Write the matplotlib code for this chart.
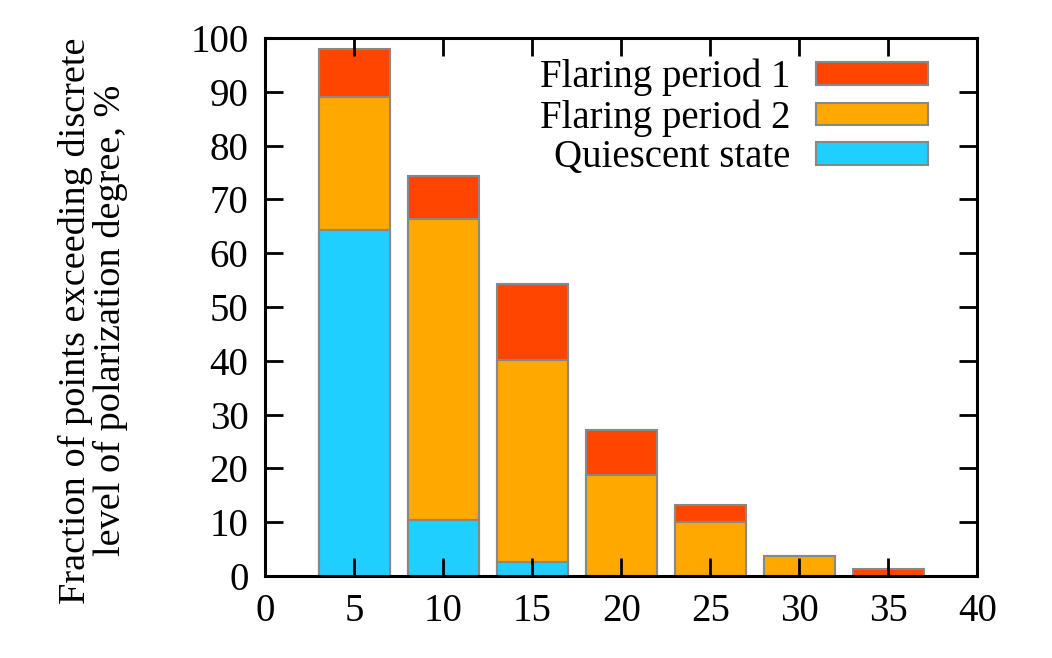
import matplotlib.pyplot as plt
import numpy as np

# polarization degree levels, %
levels = [5, 10, 15, 20, 25, 30, 35]

# fraction of points exceeding each level, %
flare1 = [98.0, 74.3, 54.2, 27.2, 13.2, 3.8, 1.3]
flare2 = [89.0, 66.3, 40.1, 18.8, 10.0, 3.8, 0.0]
quiet = [64.3, 10.4, 2.6, 0.0, 0.0, 0.0, 0.0]

labels = ["Flaring period 1", "Flaring period 2", "Quiescent state"]
colors = ["#ff4500", "#ffa800", "#1ecfff"]

plt.rcParams['font.family'] = ['Liberation Serif', 'DejaVu Serif']

fig = plt.figure(figsize=(10.52, 6.58), dpi=100)
ax = fig.add_axes([0.252, 0.1246, 0.677, 0.8176])

width = 4.0
for vals, lab, col in zip([flare1, flare2, quiet], labels, colors):
    ax.bar(levels, vals, width, color=col, edgecolor="#888888", linewidth=1.5, label=lab)

ax.set_xlim(0, 40)
ax.set_ylim(0, 100)
ax.set_xticks(np.arange(0, 41, 5))
ax.set_yticks(np.arange(0, 101, 10))
ax.tick_params(direction='in', length=13, width=2, labelsize=28, top=True, right=True, pad=12)
for sp in ax.spines.values():
    sp.set_linewidth(2.2)

ax.set_ylabel("Fraction of points exceeding discrete\nlevel of polarization degree, %",
              fontsize=27.5, linespacing=1.0)
ax.yaxis.set_label_coords(-0.193, 0.475)

ax.legend(loc='upper right', bbox_to_anchor=(0.953, 0.99), frameon=False, markerfirst=False,
          fontsize=28, handlelength=2.9, handleheight=0.52, labelspacing=0.07,
          handletextpad=0.64, borderaxespad=0)

plt.savefig("out.png", dpi=100)
